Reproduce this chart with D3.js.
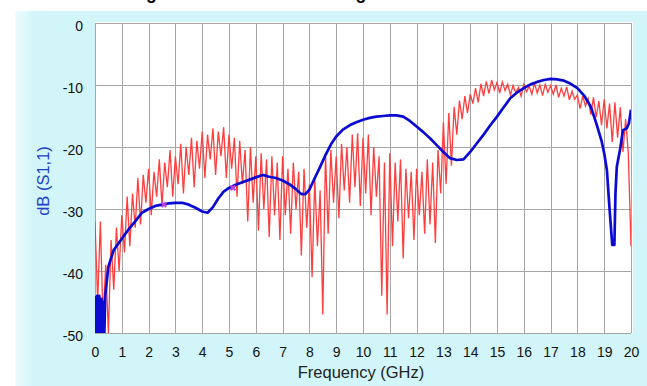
<!DOCTYPE html>
<html>
<head>
<meta charset="utf-8">
<script src="https://cdn.jsdelivr.net/npm/d3@7"></script>
<style>
body { margin: 0; background: #fff; }
svg { display: block; }
</style>
</head>
<body>
<svg id="chart" width="647" height="386"></svg>
<script>
// ---- data ----
var xTicks = [0, 1, 2, 3, 4, 5, 6, 7, 8, 9, 10, 11, 12, 13, 14, 15, 16, 17, 18, 19, 20]
var yTicks = [0, -10, -20, -30, -40, -50]

// simulated S11 (blue), frequency in GHz / dB
var blueF = [0, 0.04, 0.08, 0.12, 0.16, 0.2, 0.24, 0.28, 0.32, 0.35, 0.38, 0.5, 0.7, 1.0, 1.25, 1.5, 1.75, 2.0, 2.25, 2.5, 2.75,
    3.0, 3.25, 3.5, 3.75, 4.0, 4.2, 4.4, 4.6, 4.8, 5.0, 5.25, 5.5, 5.75, 6.0, 6.25, 6.5, 6.75, 7.0, 7.25,
    7.5, 7.7, 7.85, 8.0, 8.2, 8.4, 8.6, 8.8, 9.0, 9.25, 9.5, 9.75, 10.0, 10.25, 10.5, 10.75, 11.0, 11.25,
    11.5, 11.75, 12.0, 12.25, 12.5, 12.75, 13.0, 13.25, 13.5, 13.75, 14.0, 14.25, 14.5, 14.75, 15.0,
    15.25, 15.5, 15.75, 16.0, 16.25, 16.5, 16.75, 17.0, 17.25, 17.5, 17.75, 18.0, 18.25, 18.5, 18.7,
    18.9, 19.0, 19.1, 19.2, 19.3, 19.38, 19.42, 19.47, 19.6, 19.7, 19.84, 19.92, 20.0]
var blueDB = [-44, -50, -44, -50, -44, -50, -44.5, -50, -45, -50, -44, -39.3, -36.6, -34.8, -33.3, -32, -30.6, -30, -29.5, -29.3, -29.1,
    -29, -29, -29.3, -29.8, -30.4, -30.6, -29.7, -28.3, -27.2, -26.6, -26.1, -25.7, -25.3, -24.9, -24.5, -24.8, -25, -25.4, -26,
    -26.8, -27.6, -27.6, -26.9, -25, -23.2, -21.3, -19.6, -18.3, -17.2, -16.5, -16, -15.6, -15.3, -15.1, -15, -14.9, -14.9,
    -15.1, -15.8, -16.7, -17.6, -18.6, -19.7, -20.8, -21.8, -22.1, -22, -20.8, -19.4, -18, -16.5, -15.1,
    -13.6, -12.1, -11.2, -10.5, -9.9, -9.5, -9.2, -9.0, -9.1, -9.3, -9.8, -10.5, -11.7, -13.5, -16.1,
    -19, -21, -23.7, -30, -35.8, -35.8, -27.5, -23.2, -20.2, -17.3, -17, -16.2, -14]

// measured S11 (red), one reading every 0.1 GHz from 0 to 20 GHz
var redStep = 0.1
var redDB = [
    -32, -45, -32, -48, -39, -50, -35, -43, -33, -40,
    -31, -37, -28, -36, -27.5, -33, -25, -32.5, -24.5, -29,
    -23.5, -31, -24, -28, -22, -29.5, -22.5, -26.5, -20.5, -28,
    -21.5, -26, -19.5, -27.5, -20, -24.5, -18.5, -26.5, -19, -23.5,
    -17.5, -25, -18, -22, -17, -24.5, -17.5, -21.5, -16.8, -25,
    -18, -23.5, -18.5, -28, -19, -26, -20.5, -32, -20, -29,
    -21.5, -33.5, -21, -30, -22, -34.5, -21.5, -31, -22.5, -35,
    -21.5, -31, -23.5, -34, -22.5, -30, -24, -37.5, -23.5, -33,
    -26, -41, -25, -36, -27, -47, -21, -34, -20.5, -29,
    -21.5, -31.5, -19.5, -27, -20, -29, -18, -26.5, -17.8, -29.5,
    -18.5, -27.5, -18, -31, -20, -28, -21.5, -44, -22.5, -47,
    -21, -36, -22.5, -32, -22, -38, -23.5, -31.5, -24, -35,
    -23.5, -31, -24, -34, -22, -32.5, -22.5, -35.5, -20.5, -27.5,
    -16, -26, -14.5, -23, -13.5, -18, -12.5, -15.5, -11.8, -14.5,
    -11.5, -13, -10.5, -12.8, -9.8, -11.8, -9.4, -11.4, -9.2, -10.8,
    -9.6, -11.3, -9.5, -10.9, -9.9, -11.6, -10.1, -11.2, -10.4, -11.8,
    -9.9, -11.1, -10.2, -11.5, -9.7, -11.3, -10, -11.7, -9.9, -11.2,
    -10.1, -11.5, -10, -12, -10.5, -11.8, -10.3, -12.4, -11, -12.3,
    -11.6, -13.8, -11.8, -13.4, -12.2, -14.8, -12, -15.2, -12.6, -16.5,
    -12.3, -17, -13, -19.2, -12.8, -18.5, -13.6, -20.8, -15.5, -21,
    -36]

// small markers sitting on the blue trace
var markF = [2.57, 5.15]
var markDB = [-29.3, -26.6]

// ---- layout ----
var svg = d3.select("#chart")
var plotL = 95, plotR = 631, plotT = 23, plotB = 333

var x = d3.scaleLinear().domain([0, 20]).range([plotL, plotR])
var y = d3.scaleLinear().domain([-50, 0]).range([plotB, plotT])

var defs = svg.append("defs")
var grad = defs.append("linearGradient").attr("id", "strip")
grad.append("stop").attr("offset", "0%").attr("stop-color", "#eefcfe")
grad.append("stop").attr("offset", "100%").attr("stop-color", "#d2f5fa")
defs.append("clipPath").attr("id", "plotclip")
    .append("rect").attr("x", plotL).attr("y", plotT)
    .attr("width", plotR - plotL).attr("height", plotB - plotT)

// title (only the descenders reach into the frame)
svg.append("text")
    .attr("x", 80).attr("y", -1)
    .style("font-family", "Liberation Sans, Arial, sans-serif")
    .style("font-weight", "bold")
    .style("font-size", "17.5px")
    .text("Matching of the Measured Data Against Simulation")

svg.append("rect").attr("x", 15).attr("y", 11).attr("width", 632).attr("height", 375)
    .attr("fill", "#d2f5fa")
svg.append("rect").attr("x", 15).attr("y", 11).attr("width", 19).attr("height", 375)
    .attr("fill", "url(#strip)")

svg.append("rect").attr("x", plotL).attr("y", plotT - 1)
    .attr("width", plotR - plotL + 2).attr("height", plotB - plotT + 1)
    .attr("fill", "#fff")

// grid
var grid = svg.append("g").attr("stroke", "#a6a6a6").attr("stroke-width", 1)
grid.selectAll("line.v").data(xTicks).enter().append("line")
    .attr("class", "v")
    .attr("x1", function(d) { return Math.round(x(d)) + 0.5 })
    .attr("x2", function(d) { return Math.round(x(d)) + 0.5 })
    .attr("y1", plotT).attr("y2", plotB)
grid.selectAll("line.h").data(yTicks).enter().append("line")
    .attr("class", "h")
    .attr("y1", function(d) { return Math.round(y(d)) + 0.5 })
    .attr("y2", function(d) { return Math.round(y(d)) + 0.5 })
    .attr("x1", plotL).attr("x2", plotR)

// axes
var tickFont = "Liberation Sans, Arial, sans-serif"
var plainNum = function(d) { return String(d) }

var xAxis = svg.append("g")
    .attr("transform", "translate(0," + plotB + ")")
    .call(d3.axisBottom(x).tickValues(xTicks).tickFormat(plainNum).tickSize(0).tickPadding(14))
xAxis.select(".domain").remove()
xAxis.selectAll("text")
    .style("font-family", tickFont).style("font-size", "14px").attr("fill", "#111")

var yAxis = svg.append("g")
    .attr("transform", "translate(" + plotL + ",0)")
    .call(d3.axisLeft(y).tickValues(yTicks).tickFormat(plainNum).tickSize(0).tickPadding(12))
yAxis.select(".domain").remove()
yAxis.selectAll("text")
    .attr("dy", "0.55em")
    .style("font-family", tickFont).style("font-size", "14px").attr("fill", "#111")

svg.append("text")
    .attr("x", 361).attr("y", 378)
    .attr("text-anchor", "middle")
    .style("font-family", tickFont).style("font-size", "16.5px")
    .attr("fill", "#222")
    .text("Frequency (GHz)")

svg.append("text")
    .attr("transform", "translate(49,181) rotate(-90)")
    .attr("text-anchor", "middle")
    .style("font-family", tickFont).style("font-size", "16.5px")
    .attr("fill", "#1f3fc8")
    .text("dB (S1,1)")

// traces
var plot = svg.append("g").attr("clip-path", "url(#plotclip)")

var line = d3.line()
    .x(function(d) { return x(d[0]) })
    .y(function(d) { return y(d[1]) })

var redPts = redDB.map(function(v, i) { return [i * redStep, v] })
plot.append("path")
    .datum(redPts)
    .attr("d", line)
    .attr("fill", "none")
    .attr("stroke", "#ff3d3d")
    .attr("stroke-width", 1.3)
    .attr("stroke-linejoin", "miter")

var bluePts = blueF.map(function(f, i) { return [f, blueDB[i]] })
plot.append("path")
    .datum(bluePts)
    .attr("d", line)
    .attr("fill", "none")
    .attr("stroke", "#0a0ad2")
    .attr("stroke-width", 2.7)
    .attr("stroke-linejoin", "round")

var marks = markF.map(function(f, i) { return [f, markDB[i]] })
plot.selectAll("path.mark").data(marks).enter().append("path")
    .attr("class", "mark")
    .attr("d", d3.symbol().type(d3.symbolCross).size(24))
    .attr("transform", function(d) { return "translate(" + x(d[0]) + "," + y(d[1]) + ") rotate(45)" })
    .attr("fill", "#c040e0")
</script>
</body>
</html>
